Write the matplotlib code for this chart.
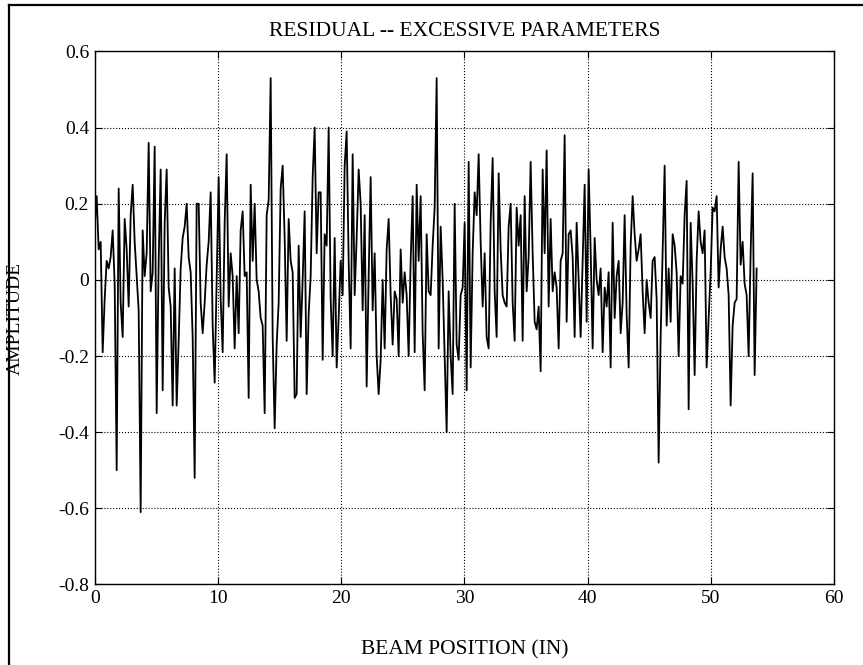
import numpy as np
import matplotlib
matplotlib.use("Agg")
import matplotlib.pyplot as plt
from matplotlib.lines import Line2D

# Beam position sampling
x_start = 0.0
x_step = 0.1623

# Residual amplitude
amp_a = [0.14, 0.22, 0.08, 0.10, -0.19, -0.05, 0.05, 0.03, 0.06, 0.13,
         -0.01, -0.50, 0.24, -0.06, -0.15, 0.16, 0.08, -0.07, 0.17, 0.25,
         0.10, 0.01, -0.08, -0.61, 0.13, 0.01, 0.07, 0.36, -0.03, 0.02,
         0.35, -0.35, 0.05, 0.29, -0.29, 0.15, 0.29, -0.02, -0.07, -0.33,
         0.03, -0.33, -0.16, 0.03, 0.11, 0.14, 0.20, 0.06, 0.02, -0.15,
         -0.52, 0.20, 0.20, -0.06, -0.14, -0.06]
amp_b = [0.04, 0.10, 0.23, -0.12, -0.27, 0.00, 0.27, -0.05, -0.19, 0.15,
         0.33, -0.07, 0.07, 0.01, -0.18, 0.01, -0.14, 0.13, 0.18, 0.01,
         0.02, -0.31, 0.25, 0.05, 0.20, 0.00, -0.03, -0.10, -0.12, -0.35,
         0.17, 0.21, 0.53, -0.15, -0.39, -0.17, -0.06, 0.24, 0.30, 0.11,
         -0.16, 0.16, 0.05, 0.02, -0.31, -0.30, 0.09, -0.15, 0.00, 0.18,
         -0.30, -0.09, 0.01, 0.27, 0.40, 0.07, 0.23]
amp_c = [0.23, -0.21, 0.12, 0.09, 0.40, -0.05, -0.20, 0.11, -0.23, -0.10,
         0.05, -0.04, 0.30, 0.39, 0.05, -0.18, 0.33, -0.04, 0.11, 0.29,
         0.20, -0.08, 0.17, -0.28, 0.01, 0.27, -0.08, 0.07, -0.20, -0.30,
         -0.21, 0.00, -0.18, 0.08, 0.16, -0.04, -0.17, -0.03, -0.05, -0.20,
         0.08, -0.06, 0.02, -0.04, -0.20, 0.05, 0.22, -0.19, 0.25, 0.05,
         0.22, -0.14, -0.29, 0.12, -0.03, -0.04, 0.09, 0.19]
amp_d = [0.53, -0.18, 0.14, 0.00, -0.20, -0.40, -0.03, -0.20, -0.30, 0.20,
         -0.17, -0.21, -0.04, -0.02, 0.15, -0.29, 0.31, -0.23, 0.07, 0.23,
         0.17, 0.33, 0.10, -0.07, 0.07, -0.15, -0.18, 0.15, 0.32, -0.03,
         -0.15, 0.28, 0.08, -0.04, -0.06, -0.07, 0.14, 0.20, -0.06, -0.16,
         0.19, 0.09, 0.17, -0.16, 0.22, -0.03, 0.06, 0.31, 0.07, -0.11,
         -0.13, -0.07, -0.24, 0.29, 0.07, 0.34, -0.07]
amp_e = [0.16, -0.03, 0.02, -0.02, -0.18, 0.05, 0.07, 0.38, -0.11, 0.12,
         0.13, 0.06, -0.15, 0.15, 0.00, -0.15, 0.05, 0.25, -0.11, 0.29,
         0.08, -0.18, 0.11, 0.00, -0.04, 0.03, -0.19, -0.02, -0.07, 0.02,
         -0.23, 0.15, -0.10, 0.01, 0.05, -0.14, -0.06, 0.17, -0.09, -0.23,
         0.09, 0.22, 0.12, 0.05, 0.08, 0.12, -0.03, -0.14, 0.00, -0.06,
         -0.10, 0.05, 0.06, -0.05, -0.48, -0.15, 0.08, 0.30]
amp_f = [-0.12, 0.03, -0.11, 0.12, 0.09, 0.02, -0.20, 0.01, -0.01, 0.17,
         0.26, -0.34, 0.15, -0.01, -0.25, 0.05, 0.18, 0.10, 0.07, 0.13,
         -0.23, -0.10, 0.02, 0.19, 0.18, 0.22, -0.02, 0.08, 0.14, 0.06,
         0.03, -0.04, -0.33, -0.12, -0.06, -0.05, 0.31, 0.04, 0.10, -0.01,
         -0.04, -0.20, 0.07, 0.28, -0.25, 0.03]

x_ticks = [0, 10, 20, 30, 40, 50, 60]
y_ticks = [-0.8, -0.6, -0.4, -0.2, 0, 0.2, 0.4, 0.6]
x_ticklabels = ["0", "10", "20", "30", "40", "50", "60"]
y_ticklabels = ["-0.8", "-0.6", "-0.4", "-0.2", "0", "0.2", "0.4", "0.6"]

amp = np.array(amp_a + amp_b + amp_c + amp_d + amp_e + amp_f)
pos = x_start + x_step * np.arange(len(amp))

plt.rcParams['font.family'] = ['Liberation Serif', 'DejaVu Serif']

fig = plt.figure(figsize=(8.63, 6.65), dpi=100)
ax = fig.add_axes([0.1097, 0.1211, 0.8567, 0.8015])

ax.plot(pos, amp, color='black', linewidth=1.3)

ax.set_xlim(0, 60)
ax.set_ylim(-0.8, 0.6)
ax.set_xticks(x_ticks)
ax.set_xticklabels(x_ticklabels)
ax.set_yticks(y_ticks)
ax.set_yticklabels(y_ticklabels)
ax.tick_params(direction='in', length=5, width=0.8, top=True, right=True,
               labelsize=14, pad=4, colors='black')
ax.grid(True, linestyle=':', color='black', linewidth=0.8)
for s in ax.spines.values():
    s.set_linewidth(1.0)
    s.set_color('black')

ax.set_title("RESIDUAL -- EXCESSIVE PARAMETERS", fontsize=15.5, pad=11)
ax.set_xlabel("BEAM POSITION (IN)", fontsize=15.5)
ax.set_ylabel("AMPLITUDE", fontsize=14)
ax.xaxis.set_label_coords(0.5, -0.104)
ax.yaxis.set_label_coords(-0.0956, 0.5)

# outer frame of the page
fig.add_artist(Line2D([9 / 863, 1.0], [1 - 5 / 665, 1 - 5 / 665],
                      transform=fig.transFigure, color='black', linewidth=1.6))
fig.add_artist(Line2D([9 / 863, 9 / 863], [0.0, 1 - 5 / 665],
                      transform=fig.transFigure, color='black', linewidth=1.6))

fig.savefig("out.png", dpi=100)
